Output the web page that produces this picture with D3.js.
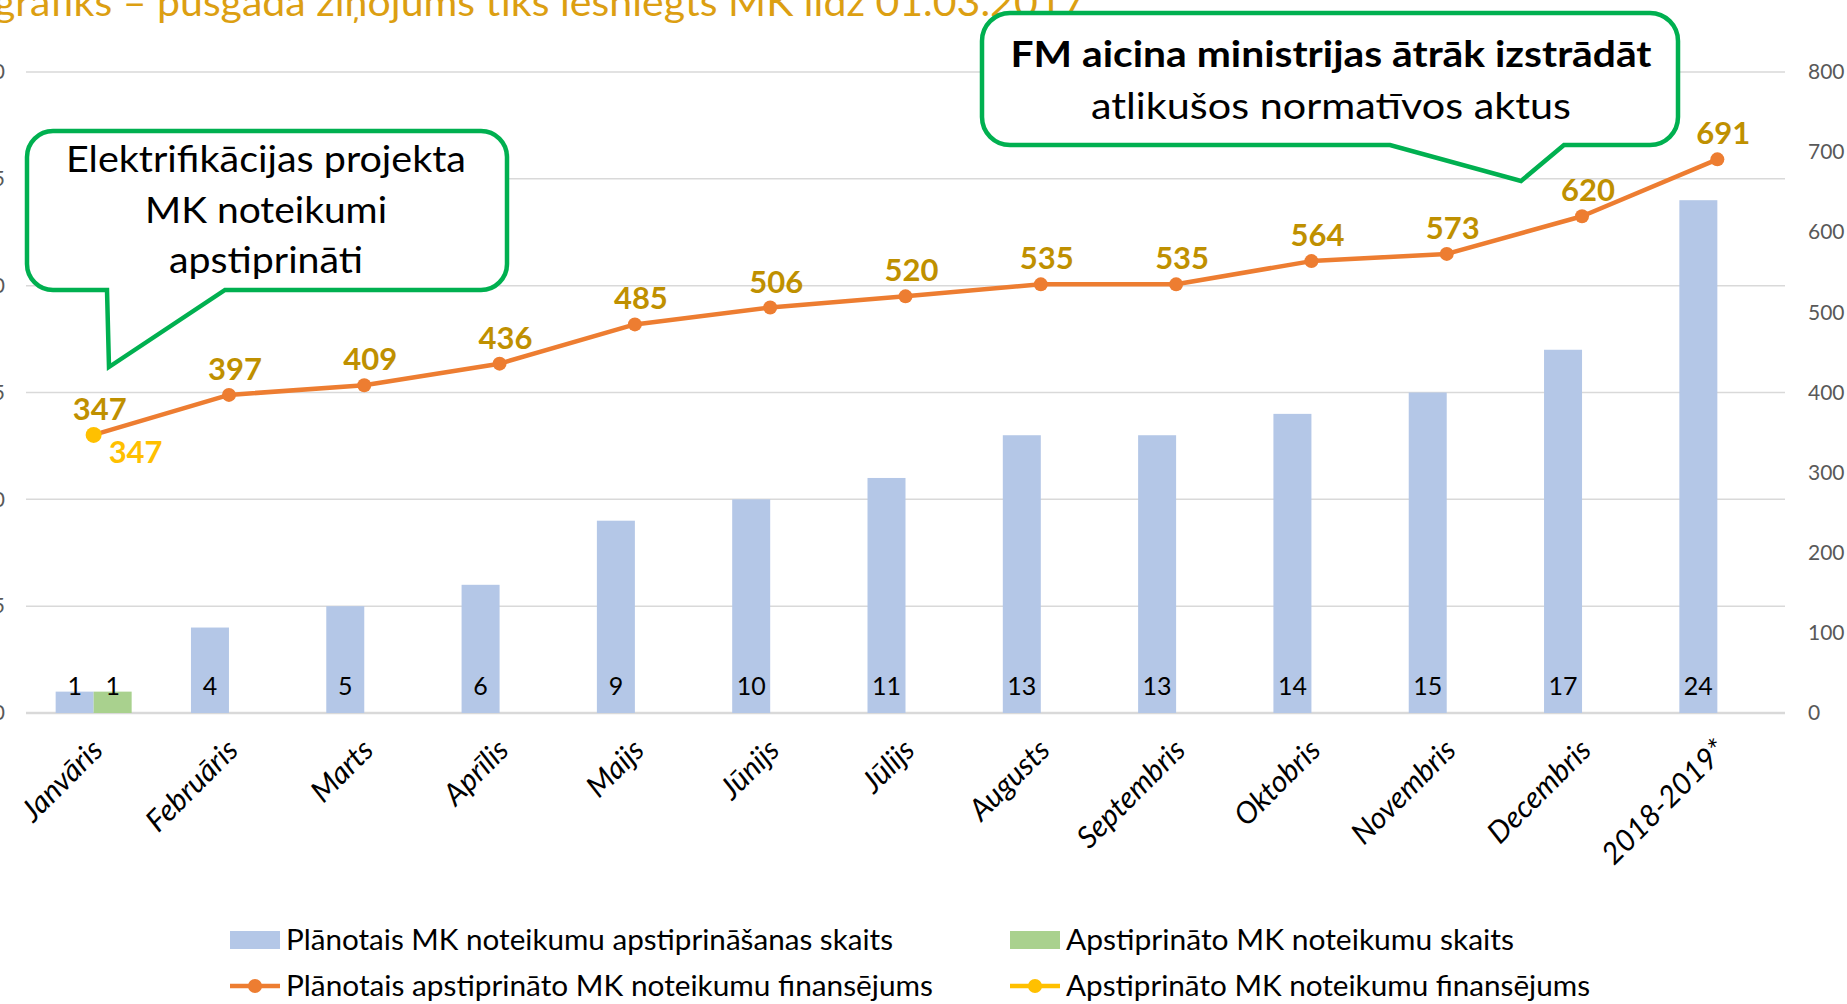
<!DOCTYPE html>
<html lang="lv">
<head>
<meta charset="utf-8">
<title>MK noteikumi</title>
<script src="https://d3js.org/d3.v7.min.js"></script>
<style>
  body { margin: 0; background: #fff; }
  svg { display: block; }
  text { font-family: Lato, "Open Sans", sans-serif; }
</style>
</head>
<body>
<svg id="chart" width="1847" height="1004"></svg>
<script>
// data
const categories = ["Janvāris", "Februāris", "Marts", "Aprīlis", "Maijs", "Jūnijs", "Jūlijs",
  "Augusts", "Septembris", "Oktobris", "Novembris", "Decembris", "2018-2019*"];
const plannedCount = [1, 4, 5, 6, 9, 10, 11, 13, 13, 14, 15, 17, 24];
const approvedCount = [1, null, null, null, null, null, null, null, null, null, null, null, null];
const plannedFunding = [347, 397, 409, 436, 485, 506, 520, 535, 535, 564, 573, 620, 691];
const approvedFunding = [347, null, null, null, null, null, null, null, null, null, null, null, null];
const leftTicks = [0, 5, 10, 15, 20, 25, 30];
const rightTicks = [0, 100, 200, 300, 400, 500, 600, 700, 800];

const seriesNames = [
  "Plānotais MK noteikumu apstiprināšanas skaits",
  "Apstiprināto MK noteikumu  skaits",
  "Plānotais apstiprināto MK noteikumu finansējums",
  "Apstiprināto MK noteikumu finansējums"
];

const blue = "#B4C7E7", green = "#A9D18E", orange = "#ED7D31", yellow = "#FFC000";
const gold = "#BF9000", callGreen = "#00B050";

const svg = d3.select("#chart");

const x = d3.scaleBand().domain(categories).range([26, 1785]).padding(0);
const inner = d3.scaleBand().domain(["planned", "approved"]).range([-38, 38]);
const yL = d3.scaleLinear().domain([0, 30]).range([713, 72]);
const yR = d3.scaleLinear().domain([0, 800]).range([713, 72]);
const cx = d => x(d) + x.bandwidth() / 2;

// title line from slide above (cut off at the top)
svg.append("text")
  .attr("x", -6).attr("y", 16)
  .attr("textLength", 1101).attr("lengthAdjust", "spacingAndGlyphs")
  .attr("font-size", 39).attr("fill", "#DC9F12")
  .text("grafiks – pusgada ziņojums tiks iesniegts MK līdz 01.03.2017.");

// gridlines
svg.append("g").selectAll("line").data(leftTicks).join("line")
  .attr("x1", 26).attr("x2", 1785)
  .attr("y1", d => yL(d)).attr("y2", d => yL(d))
  .attr("stroke", "#D9D9D9").attr("stroke-width", d => d === 0 ? 2.5 : 1.5);

// left axis (clipped by page edge)
const leftAxis = d3.axisLeft(yL).tickValues(leftTicks).tickSize(0).tickPadding(0);
const gl = svg.append("g").attr("transform", "translate(5,0)").call(leftAxis);
gl.select(".domain").remove();
gl.selectAll("text").attr("font-size", 21).attr("fill", "#595959").attr("font-family", "Lato");

// right axis
const rightAxis = d3.axisRight(yR).tickValues(rightTicks).tickSize(0).tickPadding(0);
const gr = svg.append("g").attr("transform", "translate(1808,0)").call(rightAxis);
gr.select(".domain").remove();
gr.selectAll("text").attr("font-size", 21).attr("fill", "#595959").attr("font-family", "Lato");

// bars
const barData = [];
categories.forEach((c, i) => {
  barData.push({ cat: c, key: "planned", v: plannedCount[i], color: blue });
  if (approvedCount[i] != null) barData.push({ cat: c, key: "approved", v: approvedCount[i], color: green });
});
svg.append("g").selectAll("rect").data(barData).join("rect")
  .attr("x", d => cx(d.cat) + inner(d.key))
  .attr("width", inner.bandwidth())
  .attr("y", d => yL(d.v))
  .attr("height", d => yL(0) - yL(d.v))
  .attr("fill", d => d.color);

svg.append("g").selectAll("text").data(barData).join("text")
  .attr("x", d => cx(d.cat) + inner(d.key) + inner.bandwidth() / 2)
  .attr("y", 695)
  .attr("text-anchor", "middle")
  .attr("font-size", 25).attr("fill", "#000")
  .text(d => d.v);

// planned funding line
const line = d3.line().x((d, i) => cx(categories[i])).y(d => yR(d));
svg.append("path").datum(plannedFunding)
  .attr("d", line).attr("fill", "none")
  .attr("stroke", orange).attr("stroke-width", 4.5).attr("stroke-linejoin", "round");
svg.append("g").selectAll("circle").data(plannedFunding).join("circle")
  .attr("cx", (d, i) => cx(categories[i])).attr("cy", d => yR(d))
  .attr("r", 7).attr("fill", orange);
svg.append("g").selectAll("text").data(plannedFunding).join("text")
  .attr("x", (d, i) => cx(categories[i]) + 6)
  .attr("y", d => yR(d) - 15)
  .attr("text-anchor", "middle")
  .attr("font-size", 31).attr("font-weight", "bold").attr("fill", gold)
  .text(d => d);

// approved funding (single point)
const apData = approvedFunding.map((v, i) => ({ v, c: categories[i] })).filter(d => d.v != null);
svg.append("g").selectAll("circle").data(apData).join("circle")
  .attr("cx", d => cx(d.c)).attr("cy", d => yR(d.v))
  .attr("r", 8).attr("fill", yellow);
svg.append("g").selectAll("text").data(apData).join("text")
  .attr("x", d => cx(d.c) + 15).attr("y", d => yR(d.v) + 28)
  .attr("font-size", 31).attr("font-weight", "bold").attr("fill", yellow)
  .text(d => d.v);

// x labels
svg.append("g").selectAll("text").data(categories).join("text")
  .attr("transform", d => `translate(${cx(d) + 11},752) rotate(-45)`)
  .attr("text-anchor", "end")
  .attr("font-size", 30).attr("font-style", "italic").attr("fill", "#000")
  .text(d => d);

// callouts
function callout(x0, y0, x1, y1, r, b1, b2, tx, ty) {
  return `M${x0 + r},${y0} H${x1 - r} A${r},${r} 0 0 1 ${x1},${y0 + r} V${y1 - r}` +
    ` A${r},${r} 0 0 1 ${x1 - r},${y1} H${b2} L${tx},${ty} L${b1},${y1} H${x0 + r}` +
    ` A${r},${r} 0 0 1 ${x0},${y1 - r} V${y0 + r} A${r},${r} 0 0 1 ${x0 + r},${y0} Z`;
}
svg.append("path")
  .attr("d", callout(27, 131, 507, 290, 26, 107, 225, 109, 367))
  .attr("fill", "#fff").attr("stroke", callGreen).attr("stroke-width", 4.5);
const leftLines = [
  { t: "Elektrifikācijas projekta", y: 172, w: 400 },
  { t: "MK noteikumi", y: 223, w: 242 },
  { t: "apstiprināti", y: 273, w: 194 }
];
svg.append("g").selectAll("text").data(leftLines).join("text")
  .attr("x", d => 266 - d.w / 2).attr("y", d => d.y)
  .attr("textLength", d => d.w).attr("lengthAdjust", "spacingAndGlyphs")
  .attr("font-size", 36).attr("fill", "#000")
  .text(d => d.t);

svg.append("path")
  .attr("d", callout(982, 13, 1678, 145, 28, 1390, 1564, 1521, 181))
  .attr("fill", "#fff").attr("stroke", callGreen).attr("stroke-width", 4.5);
const rightLines = [
  { t: "FM aicina ministrijas ātrāk izstrādāt", y: 67, w: 641, bold: true },
  { t: "atlikušos normatīvos aktus", y: 119, w: 480, bold: false }
];
svg.append("g").selectAll("text").data(rightLines).join("text")
  .attr("x", d => 1331 - d.w / 2).attr("y", d => d.y)
  .attr("textLength", d => d.w).attr("lengthAdjust", "spacingAndGlyphs")
  .attr("font-size", 37).attr("font-family", "Roboto, sans-serif")
  .attr("font-weight", d => d.bold ? "bold" : "normal").attr("fill", "#000")
  .text(d => d.t);

// legend
const legend = [
  { name: seriesNames[0], color: blue, type: "rect", x: 230, y: 940, w: 607 },
  { name: seriesNames[1], color: green, type: "rect", x: 1010, y: 940, w: 448 },
  { name: seriesNames[2], color: orange, type: "line", x: 230, y: 986, w: 647 },
  { name: seriesNames[3], color: yellow, type: "line", x: 1010, y: 986, w: 524 }
];
const lg = svg.append("g").selectAll("g").data(legend).join("g")
  .attr("transform", d => `translate(${d.x},${d.y})`);
lg.filter(d => d.type === "rect").append("rect")
  .attr("x", 0).attr("y", -9).attr("width", 50).attr("height", 18)
  .attr("fill", d => d.color);
lg.filter(d => d.type === "line").append("line")
  .attr("x1", 0).attr("x2", 50).attr("y1", 0).attr("y2", 0)
  .attr("stroke", d => d.color).attr("stroke-width", 4.5);
lg.filter(d => d.type === "line").append("circle")
  .attr("cx", 25).attr("cy", 0).attr("r", 7).attr("fill", d => d.color);
lg.append("text")
  .attr("x", 56).attr("y", 10)
  .attr("textLength", d => d.w).attr("lengthAdjust", "spacingAndGlyphs")
  .attr("font-size", 28).attr("fill", "#000")
  .text(d => d.name);
</script>
</body>
</html>
